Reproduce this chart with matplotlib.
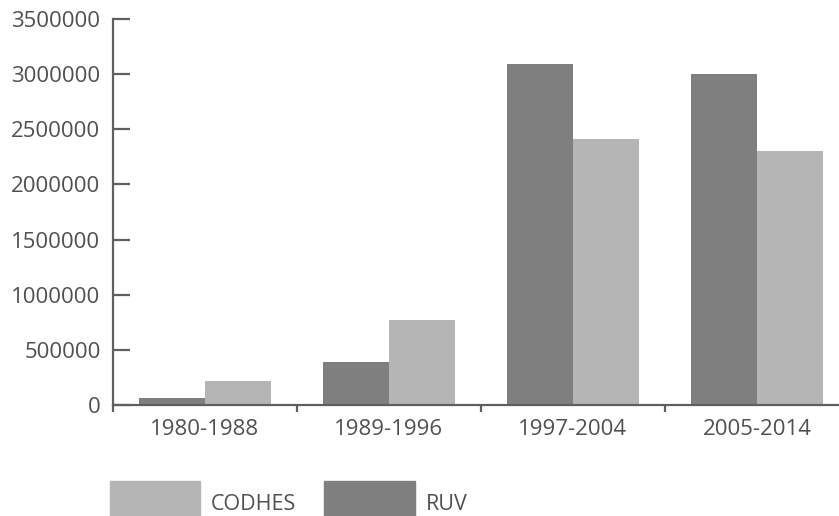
import numpy as np
import matplotlib.pyplot as plt
from matplotlib.patches import Patch

periods = ["1980-1988", "1989-1996", "1997-2004", "2005-2014"]
ruv = [60000, 390000, 3090000, 3000000]
codhes = [220000, 770000, 2410000, 2300000]

dark = "#7f7f7f"
light = "#b5b5b5"
axis_col = "#5f5f5f"
text_col = "#505050"

plt.rcParams["font.family"] = ["Open Sans", "DejaVu Sans"]

fig = plt.figure(figsize=(8.39, 5.16), dpi=100)
ax = fig.add_axes([113 / 839, 111 / 516, 736 / 839, 386 / 516])

x = np.arange(len(periods))
w = 0.36
ax.bar(x - w / 2, ruv, w, color=dark)
ax.bar(x + w / 2, codhes, w, color=light)

ax.set_xlim(-0.5, 3.5)
ax.set_ylim(0, 3500000)
yt = np.arange(0, 3500001, 500000)
ax.set_yticks(yt)
ax.set_yticklabels([f"{int(v)}" for v in yt])

ax.set_xticks(x)
ax.set_xticklabels(periods)
ax.set_xticks(np.arange(-0.5, 4, 1), minor=True)

for s in ["top", "right"]:
    ax.spines[s].set_visible(False)
for s in ["left", "bottom"]:
    ax.spines[s].set_color(axis_col)
    ax.spines[s].set_linewidth(1.6)

ax.tick_params(axis="y", direction="in", length=12, width=1.6, color=axis_col,
               labelsize=16, labelcolor=text_col, pad=9)
ax.tick_params(axis="x", which="major", length=0, labelsize=16,
               labelcolor=text_col, pad=10)
ax.tick_params(axis="x", which="minor", direction="out", length=5,
               width=1.6, color=axis_col)

handles = [Patch(color=light), Patch(color=dark)]
fig.legend(handles, ["CODHES", "RUV"], loc="upper left",
           bbox_to_anchor=(110 / 839, 1 - 481 / 516), ncol=2, frameon=False,
           borderpad=0, borderaxespad=0,
           handlelength=4.2, handleheight=2.9, handletextpad=0.5,
           columnspacing=1.3, fontsize=15.5, labelcolor=text_col)

fig.savefig("out.png", dpi=100, facecolor="white")
